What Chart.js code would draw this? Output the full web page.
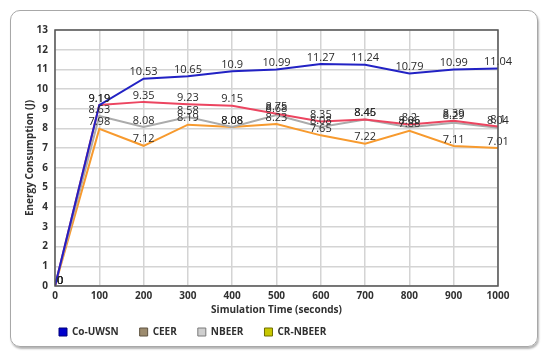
<!DOCTYPE html>
<html>
<head>
<meta charset="utf-8">
<script src="https://cdn.jsdelivr.net/npm/chart.js@4"></script>
<style>
  html, body { margin: 0; padding: 0; background: #fff; }
  #wrap { position: relative; width: 550px; height: 359px; }
  #frame {
    position: absolute; left: 10px; top: 10px; width: 526px; height: 335px;
    border: 1px solid #a8a8a8; border-radius: 10px;
    box-shadow: 1px 2px 2px #b5b5b5;
  }
  canvas { position: absolute; left: 0; top: 0; }
</style>
</head>
<body>
<div id="wrap">
  <div id="frame"></div>
  <canvas id="chart" width="550" height="359"></canvas>
</div>
<script>
// Simulation time (s) on the x axis
const times = [0, 100, 200, 300, 400, 500, 600, 700, 800, 900, 1000];

// Energy consumption (J) per protocol
const coUwsn  = [0, 9.19, 10.53, 10.65, 10.9, 10.99, 11.27, 11.24, 10.79, 10.99, 11.04];
const ceer    = [0, 9.19, 9.35, 9.23, 9.15, 8.75, 8.35, 8.46, 8.2, 8.39, 8.1];
const nbeer   = [0, 8.63, 8.08, 8.58, 8.08, 8.68, 8.08, 8.45, 8.06, 8.29, 8.04];
const crNbeer = [0, 7.98, 7.12, 8.19, 8.08, 8.23, 7.65, 7.22, 7.88, 7.11, 7.01];

const seriesNames = ['Co-UWSN', 'CEER', 'NBEER', 'CR-NBEER'];
const lineColors = ['#2222c4', '#ec4560', '#ababab', '#f79a2e'];
// the legend swatches don't use the line colours in the original
const legendFill = ['#0000cc', '#9c8b6e', '#cfcfcf', '#c8c800'];
const legendEdge = ['#00007a', '#5e5240', '#7a7a7a', '#6e6e00'];

const FONT = "'Open Sans', 'DejaVu Sans', sans-serif";
const TEXT = '#303030';

function toPoints(values) {
  return values.map((v, i) => ({ x: times[i], y: v }));
}

// draws the value above each point
const valueLabels = {
  id: 'valueLabels',
  afterDatasetsDraw(chart) {
    const ctx = chart.ctx;
    ctx.save();
    ctx.font = '11px ' + FONT;
    ctx.fillStyle = '#2a2a2a';
    ctx.textBaseline = 'bottom';
    for (let d = chart.data.datasets.length - 1; d >= 0; d--) {
      const meta = chart.getDatasetMeta(d);
      meta.data.forEach((pt, i) => {
        const v = chart.data.datasets[d].data[i].y;
        if (v === 0) {
          ctx.textAlign = 'left';
          ctx.fillText('0', pt.x + 2, pt.y);
        } else {
          ctx.textAlign = 'center';
          ctx.fillText(String(v), pt.x, pt.y - 1);
        }
      });
    }
    ctx.restore();
  }
};

// plot frame + nudge legend to where the original has it
const frameAndLegend = {
  id: 'frameAndLegend',
  afterLayout(chart) {
    const lg = chart.legend;
    const dx = 38, dy = -10;
    lg.left += dx; lg.right += dx;
    lg.top += dy; lg.bottom += dy;
  },
  afterDatasetsDraw(chart) {
    const a = chart.chartArea;
    const ctx = chart.ctx;
    ctx.save();
    ctx.strokeStyle = '#555';
    ctx.lineWidth = 1.5;
    ctx.strokeRect(a.left, a.top, a.right - a.left, a.bottom - a.top);
    ctx.restore();
  }
};

new Chart(document.getElementById('chart'), {
  type: 'line',
  data: {
    datasets: seriesNames.map((name, k) => ({
      label: name,
      data: toPoints([coUwsn, ceer, nbeer, crNbeer][k]),
      borderColor: lineColors[k],
      backgroundColor: legendFill[k],
      borderWidth: 2,
      pointRadius: 0,
      tension: 0,
      fill: false
    }))
  },
  options: {
    responsive: false,
    animation: false,
    layout: { padding: { top: 30, right: 52, bottom: 2, left: 0 } },
    plugins: {
      tooltip: { enabled: false },
      legend: {
        position: 'bottom',
        align: 'start',
        labels: {
          boxWidth: 8,
          boxHeight: 8,
          padding: 21,
          color: TEXT,
          font: { family: FONT, size: 10, weight: 'bold' },
          generateLabels(chart) {
            return chart.data.datasets.map((ds, i) => ({
              text: ds.label,
              fillStyle: legendFill[i],
              strokeStyle: legendEdge[i],
              lineWidth: 1,
              fontColor: TEXT,
              datasetIndex: i
            }));
          }
        }
      }
    },
    scales: {
      x: {
        type: 'linear',
        min: 0,
        max: 1000,
        ticks: {
          stepSize: 100,
          padding: 4,
          color: TEXT,
          font: { family: FONT, size: 10, weight: 'bold' },
          callback: v => String(v)
        },
        grid: { color: '#d4d4d4', lineWidth: 1.5, drawTicks: false },
        border: { display: false },
        title: {
          display: true,
          text: 'Simulation Time (seconds)',
          color: TEXT,
          font: { family: FONT, size: 10, weight: 'bold' },
          padding: { top: 0, bottom: 0 }
        },
        afterFit(scale) { scale.height = 30; }
      },
      y: {
        min: 0,
        max: 13,
        ticks: {
          stepSize: 1,
          padding: 7,
          color: TEXT,
          font: { family: FONT, size: 10, weight: 'bold' }
        },
        grid: { color: '#d4d4d4', lineWidth: 1.5, drawTicks: false },
        border: { display: false },
        title: {
          display: true,
          text: 'Energy Consumption (J)',
          color: TEXT,
          font: { family: FONT, size: 10, weight: 'bold' },
          padding: { top: 24, bottom: 0 }
        },
        afterFit(scale) { scale.width = 55; }
      }
    }
  },
  plugins: [valueLabels, frameAndLegend]
});
</script>
</body>
</html>
